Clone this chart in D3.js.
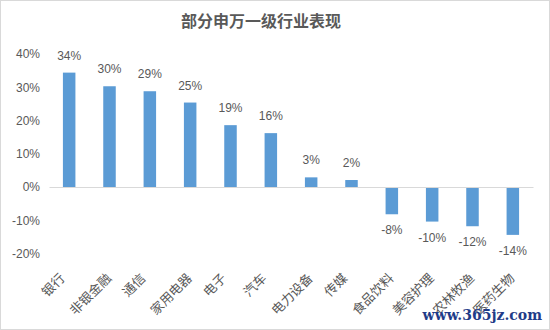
<!DOCTYPE html>
<html><head><meta charset="utf-8">
<script src="https://cdn.jsdelivr.net/npm/d3@7/dist/d3.min.js"></script>
<style>
body{margin:0;background:#fff;}
svg{display:block;}
</style></head>
<body>
<svg id="c" width="550" height="330"></svg>
<script>
const categories = ["银行","非银金融","通信","家用电器","电子","汽车","电力设备","传媒","食品饮料","美容护理","农林牧渔","医药生物"];
const values = [34.4, 30.3, 28.8, 25.4, 18.6, 16.2, 2.9, 2.1, -8.2, -10.4, -11.8, -14.4];
const yTicks = [40, 30, 20, 10, 0, -10, -20];
const title = "部分申万一级行业表现";

const svg = d3.select("#c");
const W = 550, H = 330;
svg.append("rect").attr("x",0.5).attr("y",0.5).attr("width",W-1).attr("height",H-1)
  .attr("fill","#fff").attr("stroke","#d9d9d9");

const x = d3.scaleBand().domain(categories).range([49, 533]).paddingInner(0.69).paddingOuter(0.345);
const y = d3.scaleLinear().domain([-20, 40]).range([253.5, 54]);

svg.append("text").attr("x", 261).attr("y", 27).attr("text-anchor","middle")
  .attr("font-family","'Noto Sans CJK SC', sans-serif").attr("font-size",16).attr("font-weight","bold")
  .attr("fill","#595959").text(title);

// y axis labels
const yAxis = d3.axisLeft(y).tickValues(yTicks).tickFormat(d => d + "%").tickSize(0).tickPadding(0);
const ya = svg.append("g").attr("transform","translate(40,0)").call(yAxis);
ya.select(".domain").remove();
ya.selectAll("text").attr("font-family","'Liberation Sans', Arial, sans-serif").attr("font-size",12).attr("fill","#595959");

// bars
svg.append("g").selectAll("rect").data(values).join("rect")
  .attr("x",(d,i)=>x(categories[i]))
  .attr("width",x.bandwidth())
  .attr("y",d=>y(Math.max(0,d)))
  .attr("height",d=>Math.abs(y(d)-y(0)))
  .attr("fill","#5b9bd5");

// zero axis line
const xAxis = d3.axisBottom(x).tickSize(0).tickFormat("");
const xa = svg.append("g").attr("transform",`translate(0,${y(0)})`).call(xAxis);
xa.select(".domain").attr("stroke","#d9d9d9").attr("stroke-width",1.2);

// value labels
svg.append("g").selectAll("text").data(values).join("text")
  .attr("x",(d,i)=>x(categories[i])+x.bandwidth()/2)
  .attr("y",d=> d>=0 ? y(d)-13 : y(d)+20)
  .attr("text-anchor","middle")
  .attr("font-family","'Liberation Sans', Arial, sans-serif").attr("font-size",12)
  .attr("fill","#595959")
  .text(d=>Math.round(d)+"%");

// category labels
svg.append("g").selectAll("text").data(categories).join("text")
  .attr("transform",(d)=>`translate(${x(d)+x.bandwidth()/2+3*(d.length-2)-3.4},279) rotate(-45)`)
  .attr("text-anchor","end")
  .attr("font-family","'Noto Sans CJK SC', sans-serif").attr("font-size",13)
  .attr("fill","#595959")
  .text(d=>d);

// watermark
svg.append("text").attr("x",542).attr("y",320).attr("text-anchor","end")
  .attr("font-family","'DejaVu Serif', serif").attr("font-weight","bold").attr("font-size",14)
  .attr("fill","#1f3c88").text("www.365jz.com");
</script>
</body></html>
